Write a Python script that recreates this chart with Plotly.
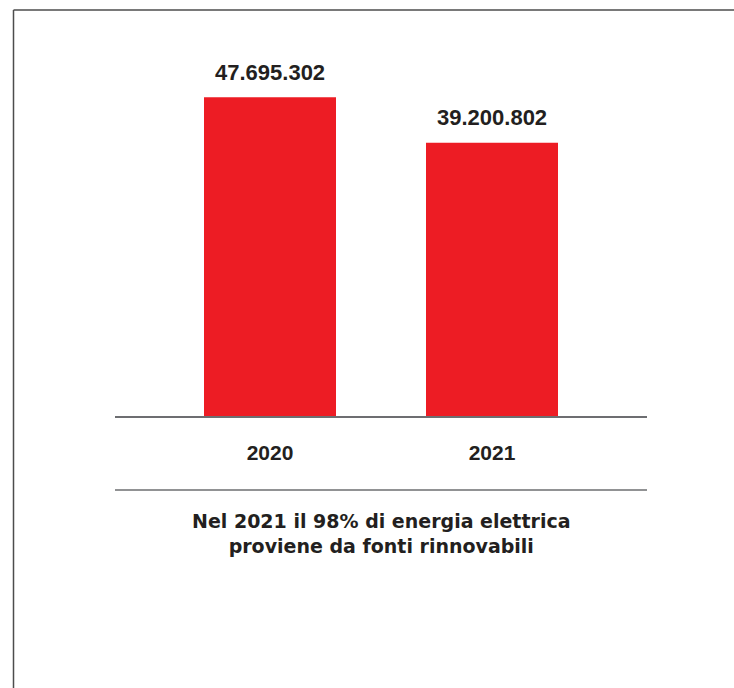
import plotly.graph_objects as go

# ---- data ----
years = ["2020", "2021"]
values = [47695302, 39200802]
value_labels = ["47.695.302", "39.200.802"]
note_lines = ["Nel 2021 il 98% di energia elettrica", "proviene da fonti rinnovabili"]

# ---- style ----
W, H = 734, 688
ML, MR, MT, MB = 115, 87, 40, 272
PW, PH = W - ML - MR, H - MT - MB
AXIS_FLOOR = -11.93e6
AXIS_TOP = 58.42e6
BAR_COLOR = "#ED1C24"
TEXT_COLOR = "#231F20"
LINE_COLOR = "#6D6E71"

def px_x(p):
    return (p - ML) / PW

def px_y(p):
    return (H - MB - p) / PH

fig = go.Figure()
fig.add_trace(go.Bar(
    x=list(range(len(years))),
    y=[v - AXIS_FLOOR for v in values],
    base=[AXIS_FLOOR] * len(values),
    marker=dict(color=BAR_COLOR, line=dict(width=0)),
    width=0.5946,
    hoverinfo="skip",
))

for i, (v, lab) in enumerate(zip(values, value_labels)):
    fig.add_annotation(
        x=i, y=v, xref="x", yref="y", text=lab, showarrow=False,
        yanchor="middle", yshift=25,
        font=dict(family="Liberation Sans, Arial", size=22, color=TEXT_COLOR, weight="bold"),
    )

fig.add_annotation(
    x=0.5, xref="paper", y=px_y(533), yref="paper", yanchor="middle",
    text="<br>".join(note_lines), showarrow=False, align="center",
    font=dict(family="DejaVu Sans", size=19, color=TEXT_COLOR, weight="bold"),
)

shapes = [
    dict(type="line", xref="paper", yref="paper", x0=0, x1=1, y0=px_y(490), y1=px_y(490),
         line=dict(color=LINE_COLOR, width=1.5)),
    dict(type="line", xref="paper", yref="paper", x0=px_x(13.5), x1=px_x(740), y0=px_y(10), y1=px_y(10),
         line=dict(color="#4D4D4D", width=1.5)),
    dict(type="line", xref="paper", yref="paper", x0=px_x(13.5), x1=px_x(13.5), y0=px_y(10), y1=px_y(700),
         line=dict(color="#4D4D4D", width=1.5)),
]

fig.update_layout(
    width=W, height=H,
    margin=dict(l=ML, r=MR, t=MT, b=MB, pad=0),
    paper_bgcolor="white", plot_bgcolor="white",
    showlegend=False, shapes=shapes,
    xaxis=dict(
        range=[-0.6982, 1.6982],
        tickvals=list(range(len(years))), ticktext=years,
        showline=True, linecolor=LINE_COLOR, linewidth=1.5,
        showgrid=False, zeroline=False, ticks="",
        ticklabelstandoff=17,
        tickfont=dict(family="Liberation Sans, Arial", size=21, color=TEXT_COLOR, weight="bold"),
    ),
    yaxis=dict(range=[AXIS_FLOOR, AXIS_TOP], visible=False, showgrid=False, zeroline=False),
)

fig.write_html("out.html")
